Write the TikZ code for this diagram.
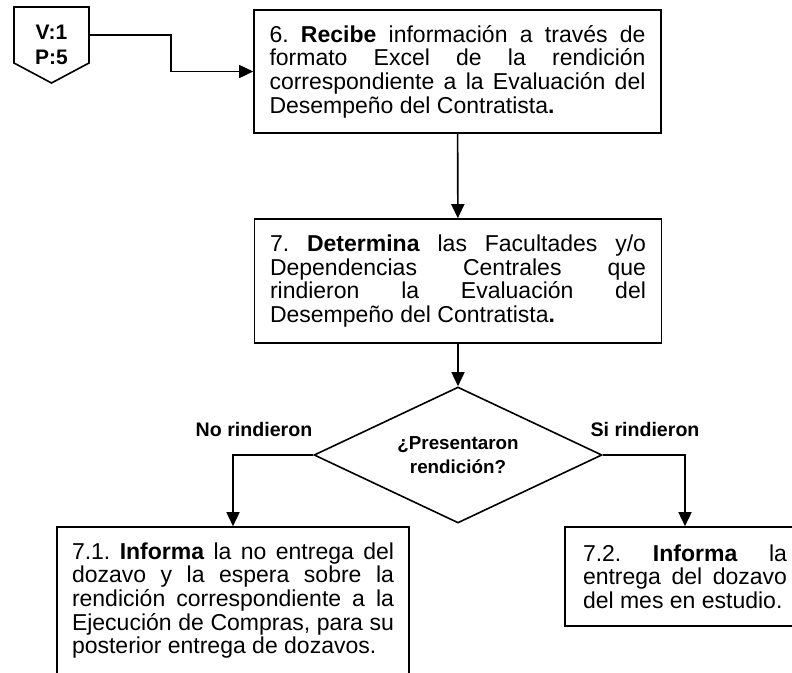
\documentclass[tikz,border=0pt]{standalone}
\usepackage{fontspec}
\setmainfont{Liberation Sans}
\usetikzlibrary{arrows.meta,positioning,calc,shapes.geometric}
\newcommand{\boxfont}{\fontsize{11.5pt}{11.85pt}\selectfont\frenchspacing}
\newcommand{\tagfont}{\bfseries\fontsize{9.8pt}{12pt}\selectfont}
\tikzset{
stepbox/.style={draw, line width=0.8pt, align=justify, font=\boxfont, inner xsep=7.75pt, inner ysep=3pt, text width=188pt, minimum height=61.5pt},
decisionbox/.style={draw, diamond, aspect=2.1, line width=0.8pt, align=center, font=\bfseries\fontsize{9.4pt}{11.8pt}\selectfont, inner sep=0pt, minimum width=144pt, minimum height=68pt},
offpage/.style={align=center, font=\bfseries\fontsize{10.5pt}{12.5pt}\selectfont, inner sep=0pt},
caselabel/.style={font=\tagfont, inner sep=1pt},
flowarrow/.style={-{Triangle[length=7pt,width=6.5pt]}, line width=0.8pt}
}
\begin{document}
\begin{tikzpicture}[x=0.5pt,y=-0.5pt]
\useasboundingbox (0,0) rectangle (792,673);
\node[offpage] (vp) at (51.5,45) {V:1\\P:5};
\draw[line width=0.8pt] ($(vp)+(-37.5,-38)$) -- ($(vp)+(37.5,-38)$) -- ($(vp)+(37.5,18)$)
  -- ($(vp)+(0,38)$) -- ($(vp)+(-37.5,18)$) -- cycle;
\coordinate (vpout) at ($(vp)+(37.5,-10)$);

\node[stepbox] (rec) at (457.5,71.5) {6. \textbf{Recibe} información a través de\linebreak formato Excel de la rendición\linebreak correspondiente a la Evaluación del\linebreak Desempeño del Contratista\textbf{.}};
\node[stepbox, minimum height=62pt] (det) at (458,281) {7. \textbf{Determina} las Facultades y/o\linebreak Dependencias Centrales que\linebreak rindieron la Evaluación del\linebreak Desempeño del Contratista\textbf{.}};
\node[decisionbox] (dia) at (458,455) {¿Presentaron\\rendición?};
\node[caselabel] (nolab) at (254,429) {No rindieron};
\node[caselabel] (silab) at (645,429) {Si rindieron};
\node[stepbox, text width=161pt, inner xsep=7.5pt, minimum height=73.5pt] (nores) at (233,600.5) {7.1. \textbf{Informa} la no entrega del\linebreak dozavo y la espera sobre la\linebreak rendición correspondiente a la\linebreak Ejecución de Compras, para su\linebreak posterior entrega de dozavos.};
\node[stepbox, text width=102pt, inner xsep=9pt, minimum height=49.5pt] (sires) at (685,576.5) {7.2. \textbf{Informa} la\linebreak entrega del dozavo\linebreak del mes en estudio.};

\draw[flowarrow] (vpout) -| ($(vpout)!0.5!(rec.west)$) |- (rec.west);
\draw[flowarrow] (rec) -- (det);
\draw[flowarrow] (det) -- (dia);
\draw[flowarrow] (dia.west) -| (nores);
\draw[flowarrow] (dia.east) -| (sires);
\end{tikzpicture}
\end{document}
